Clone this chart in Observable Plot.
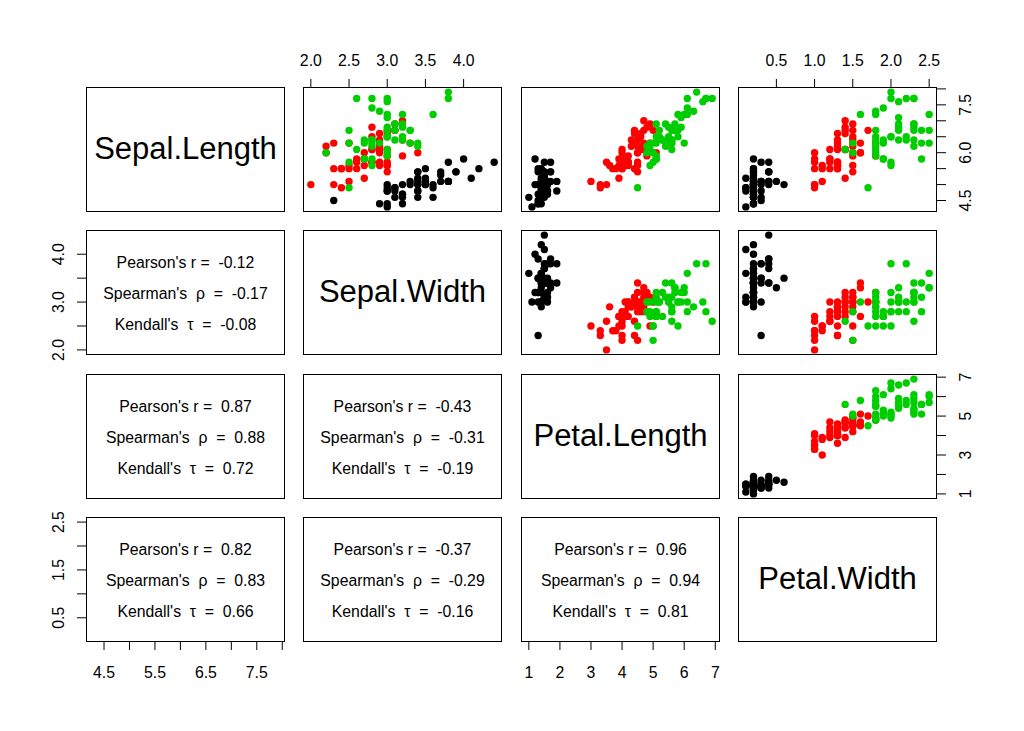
<!DOCTYPE html>
<html><head><meta charset="utf-8">
<script src="https://cdn.jsdelivr.net/npm/d3@7"></script>
<script src="https://cdn.jsdelivr.net/npm/@observablehq/plot@0.6"></script>
<style>
html,body{margin:0;padding:0;background:#fff;}
#chart{position:relative;width:1024px;height:731px;overflow:hidden;background:#fff;}
#chart svg{position:absolute;}
</style></head><body><div id="chart"></div>
<script>
// ---- data: Anderson's iris ----
const variables = ["Sepal.Length", "Sepal.Width", "Petal.Length", "Petal.Width"];
const speciesNames = ["setosa", "versicolor", "virginica"];
const speciesColors = ["#000000", "#FF0000", "#00CD00"];

const sepalLength = [
5.1,4.9,4.7,4.6,5.0,5.4,4.6,5.0,4.4,4.9,5.4,4.8,4.8,4.3,5.8,5.7,5.4,5.1,5.7,5.1,5.4,5.1,4.6,5.1,4.8,5.0,5.0,5.2,5.2,4.7,4.8,5.4,5.2,5.5,4.9,5.0,5.5,4.9,4.4,5.1,5.0,4.5,4.4,5.0,5.1,4.8,5.1,4.6,5.3,5.0,
7.0,6.4,6.9,5.5,6.5,5.7,6.3,4.9,6.6,5.2,5.0,5.9,6.0,6.1,5.6,6.7,5.6,5.8,6.2,5.6,5.9,6.1,6.3,6.1,6.4,6.6,6.8,6.7,6.0,5.7,5.5,5.5,5.8,6.0,5.4,6.0,6.7,6.3,5.6,5.5,5.5,6.1,5.8,5.0,5.6,5.7,5.7,6.2,5.1,5.7,
6.3,5.8,7.1,6.3,6.5,7.6,4.9,7.3,6.7,7.2,6.5,6.4,6.8,5.7,5.8,6.4,6.5,7.7,7.7,6.0,6.9,5.6,7.7,6.3,6.7,7.2,6.2,6.1,6.4,7.2,7.4,7.9,6.4,6.3,6.1,7.7,6.3,6.4,6.0,6.9,6.7,6.9,5.8,6.8,6.7,6.7,6.3,6.5,6.2,5.9];
const sepalWidth = [
3.5,3.0,3.2,3.1,3.6,3.9,3.4,3.4,2.9,3.1,3.7,3.4,3.0,3.0,4.0,4.4,3.9,3.5,3.8,3.8,3.4,3.7,3.6,3.3,3.4,3.0,3.4,3.5,3.4,3.2,3.1,3.4,4.1,4.2,3.1,3.2,3.5,3.6,3.0,3.4,3.5,2.3,3.2,3.5,3.8,3.0,3.8,3.2,3.7,3.3,
3.2,3.2,3.1,2.3,2.8,2.8,3.3,2.4,2.9,2.7,2.0,3.0,2.2,2.9,2.9,3.1,3.0,2.7,2.2,2.5,3.2,2.8,2.5,2.8,2.9,3.0,2.8,3.0,2.9,2.6,2.4,2.4,2.7,2.7,3.0,3.4,3.1,2.3,3.0,2.5,2.6,3.0,2.6,2.3,2.7,3.0,2.9,2.9,2.5,2.8,
3.3,2.7,3.0,2.9,3.0,3.0,2.5,2.9,2.5,3.6,3.2,2.7,3.0,2.5,2.8,3.2,3.0,3.8,2.6,2.2,3.2,2.8,2.8,2.7,3.3,3.2,2.8,3.0,2.8,3.0,2.8,3.8,2.8,2.8,2.6,3.0,3.4,3.1,3.0,3.1,3.1,3.1,2.7,3.2,3.3,3.0,2.5,3.0,3.4,3.0];
const petalLength = [
1.4,1.4,1.3,1.5,1.4,1.7,1.4,1.5,1.4,1.5,1.5,1.6,1.4,1.1,1.2,1.5,1.3,1.4,1.7,1.5,1.7,1.5,1.0,1.7,1.9,1.6,1.6,1.5,1.4,1.6,1.6,1.5,1.5,1.4,1.5,1.2,1.3,1.4,1.3,1.5,1.3,1.3,1.3,1.6,1.9,1.4,1.6,1.4,1.5,1.4,
4.7,4.5,4.9,4.0,4.6,4.5,4.7,3.3,4.6,3.9,3.5,4.2,4.0,4.7,3.6,4.4,4.5,4.1,4.5,3.9,4.8,4.0,4.9,4.7,4.3,4.4,4.8,5.0,4.5,3.5,3.8,3.7,3.9,5.1,4.5,4.5,4.7,4.4,4.1,4.0,4.4,4.6,4.0,3.3,4.2,4.2,4.2,4.3,3.0,4.1,
6.0,5.1,5.9,5.6,5.8,6.6,4.5,6.3,5.8,6.1,5.1,5.3,5.5,5.0,5.1,5.3,5.5,6.7,6.9,5.0,5.7,4.9,6.7,4.9,5.7,6.0,4.8,4.9,5.6,5.8,6.1,6.4,5.6,5.1,5.6,6.1,5.6,5.5,4.8,5.4,5.6,5.1,5.1,5.9,5.7,5.2,5.0,5.2,5.4,5.1];
const petalWidth = [
0.2,0.2,0.2,0.2,0.2,0.4,0.3,0.2,0.2,0.1,0.2,0.2,0.1,0.1,0.2,0.4,0.4,0.3,0.3,0.3,0.2,0.4,0.2,0.5,0.2,0.2,0.4,0.2,0.2,0.2,0.2,0.4,0.1,0.2,0.2,0.2,0.2,0.1,0.2,0.2,0.3,0.3,0.2,0.6,0.4,0.3,0.2,0.2,0.2,0.2,
1.4,1.5,1.5,1.3,1.5,1.3,1.6,1.0,1.3,1.4,1.0,1.5,1.0,1.4,1.3,1.4,1.5,1.0,1.5,1.1,1.8,1.3,1.5,1.2,1.3,1.4,1.4,1.7,1.5,1.0,1.1,1.0,1.2,1.6,1.5,1.6,1.5,1.3,1.3,1.3,1.2,1.4,1.2,1.0,1.3,1.2,1.3,1.3,1.1,1.3,
2.5,1.9,2.1,1.8,2.2,2.1,1.7,1.8,1.8,2.5,2.0,1.9,2.1,2.0,2.4,2.3,1.8,2.2,2.3,1.5,2.3,2.0,2.0,1.8,2.1,1.8,1.8,1.8,2.1,1.6,1.9,2.0,2.2,1.5,1.4,2.3,2.4,1.8,1.8,2.1,2.4,2.3,1.9,2.3,2.5,2.3,1.9,2.0,2.3,1.8];
const speciesCount = [50, 50, 50];

// correlation texts, lower triangle, order: (row,col) = (2,1),(3,1),(3,2),(4,1),(4,2),(4,3)
const corrPairs = [[1,0],[2,0],[2,1],[3,0],[3,1],[3,2]];
const pearsonR   = [-0.12, 0.87, -0.43, 0.82, -0.37, 0.96];
const spearmanRho= [-0.17, 0.88, -0.31, 0.83, -0.29, 0.94];
const kendallTau = [-0.08, 0.72, -0.19, 0.66, -0.16, 0.81];

// axis ticks and tick labels
const ticksSL = [4.5, 5.0, 5.5, 6.0, 6.5, 7.0, 7.5, 8.0];
const ticksSW = [2.0, 2.5, 3.0, 3.5, 4.0];
const ticksPL = [1, 2, 3, 4, 5, 6, 7];
const ticksPW = [0.5, 1.0, 1.5, 2.0, 2.5];
const labelsTopSW = ["2.0", "2.5", "3.0", "3.5", "4.0"];
const labelsTopPW = ["0.5", "1.0", "1.5", "2.0", "2.5"];
const labelsRightSL = ["4.5", "6.0", "7.5"];
const labelsRightPL = ["1", "3", "5", "7"];
const labelsLeftSW = ["2.0", "3.0", "4.0"];
const labelsLeftPW = ["0.5", "1.5", "2.5"];
const labelsBottomSL = ["4.5", "5.5", "6.5", "7.5"];
const labelsBottomPL = ["1", "2", "3", "4", "5", "6", "7"];

// ---- build table ----
const columns = [sepalLength, sepalWidth, petalLength, petalWidth];
const speciesCol = speciesNames.flatMap((s, i) => Array(speciesCount[i]).fill(s));
const iris = sepalLength.map((_, i) => {
  const row = {species: speciesCol[i]};
  variables.forEach((v, k) => row[v] = columns[k][i]);
  return row;
});
const domains = columns.map(col => {
  const [lo, hi] = d3.extent(col);
  const pad = 0.04 * (hi - lo);
  return [lo - pad, hi + pad];
});

const axes = {
  top:    {1: [ticksSW, labelsTopSW], 3: [ticksPW, labelsTopPW]},
  right:  {0: [ticksSL, labelsRightSL], 2: [ticksPL, labelsRightPL]},
  left:   {1: [ticksSW, labelsLeftSW], 3: [ticksPW, labelsLeftPW]},
  bottom: {0: [ticksSL, labelsBottomSL], 2: [ticksPL, labelsBottomPL]}
};

// ---- layout ----
const colLeft = [86, 303, 521, 738];
const rowTop = [87, 230, 374, 517];
const PW = 198, PH = 124, M = 50;
const FONT = "'Liberation Sans', Arial, Helvetica, sans-serif";
const FS = 15.8, FS_DIAG = 31;
const TICK = 9;

const chart = document.getElementById("chart");

function panel(r, c) {
  const marks = [Plot.frame({stroke: "#000", strokeWidth: 1})];
  if (r === c) {
    marks.push(Plot.text([variables[r]], {text: d => d, frameAnchor: "middle", fontSize: FS_DIAG, fill: "#000"}));
  } else if (r > c) {
    const k = corrPairs.findIndex(p => p[0] === r && p[1] === c);
    const fmt = v => v.toFixed(2);
    const lines = [
      ["Pearson's r =  " + fmt(pearsonR[k]), -29.5],
      ["Spearman's  \u03C1  =  " + fmt(spearmanRho[k]), 1.5],
      ["Kendall's  \u03C4  =  " + fmt(kendallTau[k]), 32.5]
    ];
    for (const [t, dy] of lines)
      marks.push(Plot.text([t], {text: d => d, frameAnchor: "middle", dy, fontSize: FS, fill: "#000"}));
  } else {
    const xv = variables[c], yv = variables[r];
    marks.push(Plot.dot(iris, {x: d => d[xv], y: d => d[yv], fill: "species", r: 3.7}));
  }
  if (r === 0 && axes.top[c]) {
    const [t, l] = axes.top[c];
    marks.push(Plot.axisX({ticks: t, anchor: "top", tickSize: TICK, tickFormat: () => "", label: null}));
    marks.push(Plot.text(l, {x: d => +d, text: d => d, frameAnchor: "top", dy: -22, lineAnchor: "bottom", fontSize: FS, fill: "#000"}));
  }
  if (r === 3 && axes.bottom[c]) {
    const [t, l] = axes.bottom[c];
    marks.push(Plot.axisX({ticks: t, anchor: "bottom", tickSize: TICK, tickFormat: () => "", label: null}));
    marks.push(Plot.text(l, {x: d => +d, text: d => d, frameAnchor: "bottom", dy: 25, lineAnchor: "top", fontSize: FS, fill: "#000"}));
  }
  if (c === 3 && axes.right[r]) {
    const [t, l] = axes.right[r];
    marks.push(Plot.axisY({ticks: t, anchor: "right", tickSize: TICK, tickFormat: () => "", label: null}));
    marks.push(Plot.text(l, {y: d => +d, text: d => d, frameAnchor: "right", dx: 23, rotate: -90, lineAnchor: "top", textAnchor: "middle", fontSize: FS, fill: "#000"}));
  }
  if (c === 0 && axes.left[r]) {
    const [t, l] = axes.left[r];
    marks.push(Plot.axisY({ticks: t, anchor: "left", tickSize: TICK, tickFormat: () => "", label: null}));
    marks.push(Plot.text(l, {y: d => +d, text: d => d, frameAnchor: "left", dx: -23, rotate: -90, lineAnchor: "bottom", textAnchor: "middle", fontSize: FS, fill: "#000"}));
  }
  const svg = Plot.plot({
    width: PW + 2 * M,
    height: PH + 2 * M,
    margin: M,
    x: {domain: domains[c], axis: null},
    y: {domain: domains[r], axis: null},
    color: {domain: speciesNames, range: speciesColors},
    style: `background:transparent;overflow:visible;white-space:pre;font-family:${FONT};color:#000;max-width:none;`,
    marks
  });
  svg.style.left = (colLeft[c] - M) + "px";
  svg.style.top = (rowTop[r] - M) + "px";
  chart.appendChild(svg);
}

for (let r = 0; r < 4; r++) for (let c = 0; c < 4; c++) panel(r, c);
</script>
</body></html>
